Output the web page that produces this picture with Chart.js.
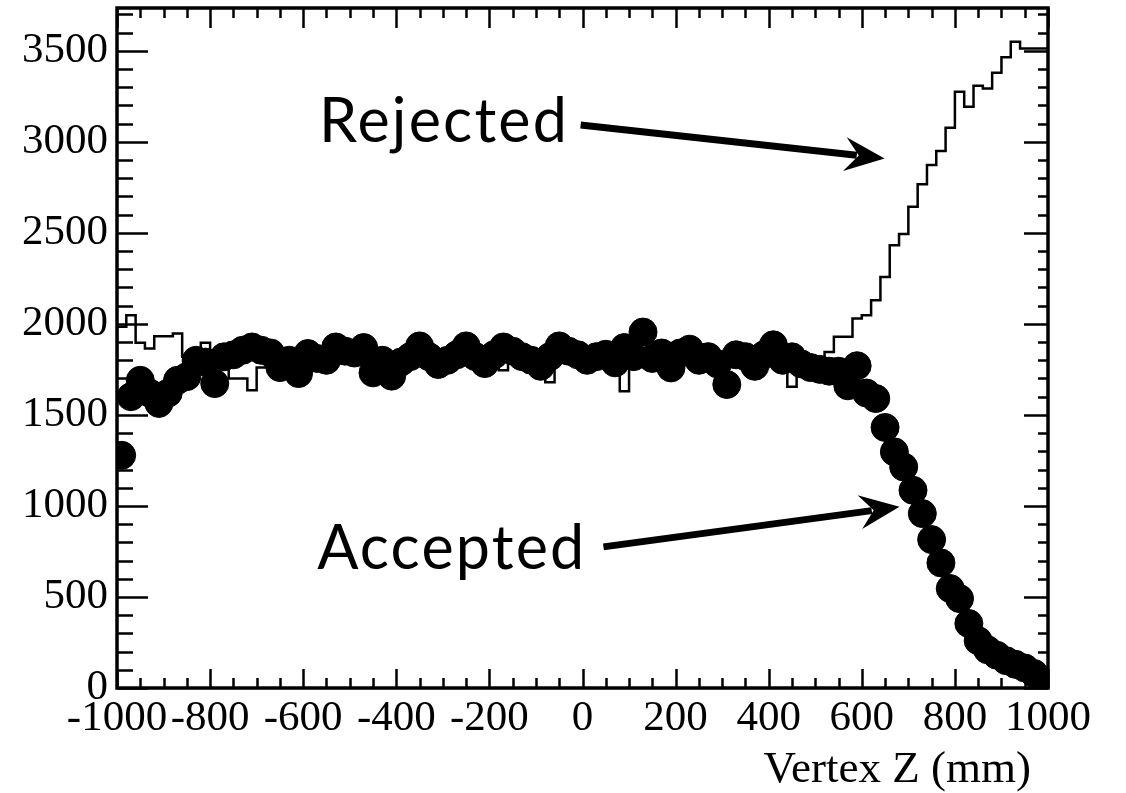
<!DOCTYPE html>
<html><head><meta charset="utf-8">
<script src="https://cdn.jsdelivr.net/npm/chart.js@4.4.1/dist/chart.umd.min.js"></script>
<style>html,body{margin:0;padding:0;background:#fff;overflow:hidden}#wrap{width:1126px;height:793px;position:relative;overflow:hidden}#c{display:block}</style>
</head><body><div id="wrap"><canvas id="c" width="1126" height="793"></canvas></div>
<script>
// ---- data ----
const zMin = -1000, zMax = 1000, binWidth = 20;
const rejectedCounts = [
1790,1984,2048,1896,1865,1932,1932,1947,1820,1800,
1896,1820,1790,1700,1700,1636,1760,1800,1820,1780,
1810,1830,1800,1820,1830,1810,1840,1790,1800,1760,
1790,1810,1830,1800,1770,1790,1810,1830,1800,1780,
1800,1810,1745,1800,1790,1770,1790,1680,1810,1800,
1790,1800,1810,1780,1820,1630,1830,1790,1810,1760,
1800,1820,1790,1800,1780,1720,1800,1790,1770,1820,
1810,1790,1780,1655,1770,1790,1800,1846,1929,1929,
2030,2048,2130,2258,2432,2493,2643,2767,2872,2950,
3077,3275,3192,3308,3293,3379,3464,3549,3513,3513];
const acceptedCounts = [
1278,1600,1690,1620,1563,1620,1690,1710,1800,1790,
1672,1819,1830,1855,1873,1855,1840,1760,1800,1727,
1837,1810,1800,1873,1850,1840,1870,1731,1800,1713,
1790,1820,1879,1820,1777,1800,1830,1879,1820,1782,
1830,1873,1850,1820,1800,1767,1820,1879,1850,1830,
1800,1820,1833,1786,1870,1820,1955,1810,1840,1758,
1840,1861,1800,1820,1780,1667,1830,1820,1767,1830,
1885,1800,1819,1780,1760,1750,1740,1740,1660,1770,
1620,1590,1431,1297,1214,1086,958,815,687,546,
491,354,260,210,180,150,130,110,80,45];
const xTickLabels = [-1000,-800,-600,-400,-200,0,200,400,600,800,1000];
const yTickLabels = [0,500,1000,1500,2000,2500,3000,3500];
const yMax = 3735;
const xTitle = 'Vertex Z (mm)';
const notes = [
  {text:'Rejected', x:-566, y:3000, ax0:-4, ay0:3092, ax1:649, ay1:2909},
  {text:'Accepted', x:-570, y:656, ax0:45, ay0:775, ax1:681, ay1:995}
];

// ---- build datasets ----
const binLow = rejectedCounts.map((_, i) => zMin + i * binWidth);
const rejectedPts = rejectedCounts.map((v, i) => ({x: binLow[i], y: v}));
rejectedPts.push({x: zMax, y: rejectedCounts[rejectedCounts.length - 1]});
const acceptedPts = acceptedCounts.map((v, i) => ({x: binLow[i] + binWidth / 2, y: v}));

const L = 117, R = 1048, T = 8, B = 688, W = 1126, H = 793;
const serif = '"Liberation Serif","Times New Roman",serif';
let OFF = 0; // canvas shift so the plot frame lands at page y = T

const framePlugin = {
  id: 'frame',
  afterDatasetsDraw(chart) {
    const ctx = chart.ctx, xs = chart.scales.x, ys = chart.scales.y, a = chart.chartArea;
    ctx.save();
    ctx.strokeStyle = '#000';
    ctx.lineWidth = 2.5;
    ctx.beginPath();
    for (let v = zMin; v <= zMax; v += 50) {
      const px = Math.round(xs.getPixelForValue(v)) + 0.5;
      const major = v % 200 === 0;
      const lb = major ? 19 : 10, lt = major ? 20 : 10;
      ctx.moveTo(px, a.bottom); ctx.lineTo(px, a.bottom - lb);
      ctx.moveTo(px, a.top); ctx.lineTo(px, a.top + lt);
    }
    for (let v = 0; v <= yMax; v += 100) {
      const py = Math.round(ys.getPixelForValue(v)) + 0.5;
      const major = v % 500 === 0;
      const ll = major ? 31 : 16, lr = major ? 24 : 10;
      ctx.moveTo(a.left, py); ctx.lineTo(a.left + ll, py);
      ctx.moveTo(a.right, py); ctx.lineTo(a.right - lr, py);
    }
    ctx.stroke();
    ctx.lineWidth = 3.5;
    ctx.strokeRect(a.left, a.top, a.right - a.left, a.bottom - a.top);
    ctx.restore();
  },
  afterDraw(chart) {
    const ctx = chart.ctx, xs = chart.scales.x, ys = chart.scales.y, a = chart.chartArea;
    ctx.save();
    ctx.fillStyle = '#000'; ctx.strokeStyle = '#000';
    ctx.font = '43px ' + serif;
    ctx.textAlign = 'right'; ctx.textBaseline = 'middle';
    yTickLabels.forEach(v => ctx.fillText(String(v), a.left - 9, ys.getPixelForValue(v)));
    ctx.textAlign = 'center'; ctx.textBaseline = 'top';
    xTickLabels.forEach(v => ctx.fillText(String(v), xs.getPixelForValue(v), a.bottom + 9));
    ctx.font = '45px ' + serif;
    ctx.textAlign = 'right'; ctx.textBaseline = 'alphabetic';
    ctx.fillText(xTitle, 1031, 782 + OFF);
    ctx.font = '61px Lato, "Open Sans", sans-serif';
    try { ctx.letterSpacing = '2.2px'; } catch (e) {}
    ctx.textAlign = 'left';
    notes.forEach(n => {
      ctx.fillText(n.text, xs.getPixelForValue(n.x), ys.getPixelForValue(n.y));
      const x0 = xs.getPixelForValue(n.ax0), y0 = ys.getPixelForValue(n.ay0);
      const x1 = xs.getPixelForValue(n.ax1), y1 = ys.getPixelForValue(n.ay1);
      const ang = Math.atan2(y1 - y0, x1 - x0);
      const hl = 36, hw = 17;
      const bx = x1 - hl * Math.cos(ang), by = y1 - hl * Math.sin(ang);
      ctx.lineWidth = 7;
      ctx.beginPath(); ctx.moveTo(x0, y0); ctx.lineTo(bx + 8 * Math.cos(ang), by + 8 * Math.sin(ang)); ctx.stroke();
      ctx.beginPath();
      ctx.moveTo(x1, y1);
      ctx.lineTo(bx - hw * Math.sin(ang) - 4 * Math.cos(ang), by + hw * Math.cos(ang) - 4 * Math.sin(ang));
      ctx.lineTo(bx + 10 * Math.cos(ang), by + 10 * Math.sin(ang));
      ctx.lineTo(bx + hw * Math.sin(ang) - 4 * Math.cos(ang), by - hw * Math.cos(ang) - 4 * Math.sin(ang));
      ctx.closePath(); ctx.fill();
    });
    ctx.restore();
  }
};

function build(off) {
  OFF = off;
  const cv = document.getElementById('c');
  cv.width = W; cv.height = H + off;
  cv.style.width = W + 'px'; cv.style.height = (H + off) + 'px';
  cv.style.marginTop = (-off) + 'px';
  return new Chart(cv, {
    type: 'scatter',
    data: {
      datasets: [
        {label: 'Rejected', data: rejectedPts, showLine: true, stepped: 'after',
         borderColor: '#000', borderWidth: 2.5, pointRadius: 0, fill: false, order: 2},
        {label: 'Accepted', data: acceptedPts, showLine: false,
         backgroundColor: '#000', borderColor: '#000', pointRadius: 14, pointHoverRadius: 14, order: 1}
      ]
    },
    options: {
      responsive: false, animation: false, events: [], devicePixelRatio: 1,
      layout: {padding: {left: 0, right: W - R, top: T + off, bottom: 0}},
      plugins: {legend: {display: false}, tooltip: {enabled: false}},
      scales: {
        x: {type: 'linear', min: zMin, max: zMax,
            afterFit: s => { s.height = H - B; },
            afterBuildTicks: s => { s.ticks = xTickLabels.map(v => ({value: v})); },
            grid: {display: false, drawTicks: false}, border: {display: false},
            ticks: {display: false}},
        y: {type: 'linear', min: 0, max: yMax,
            afterFit: s => { s.width = L; },
            afterBuildTicks: s => { s.ticks = yTickLabels.map(v => ({value: v})); },
            grid: {display: false, drawTicks: false}, border: {display: false},
            ticks: {display: false}}
      }
    },
    plugins: [framePlugin]
  });
}

let chart = build(0);
const extra = Math.round(chart.chartArea.top - T);
if (extra > 0) {
  chart.destroy();
  chart = build(extra);
}
</script></body></html>
